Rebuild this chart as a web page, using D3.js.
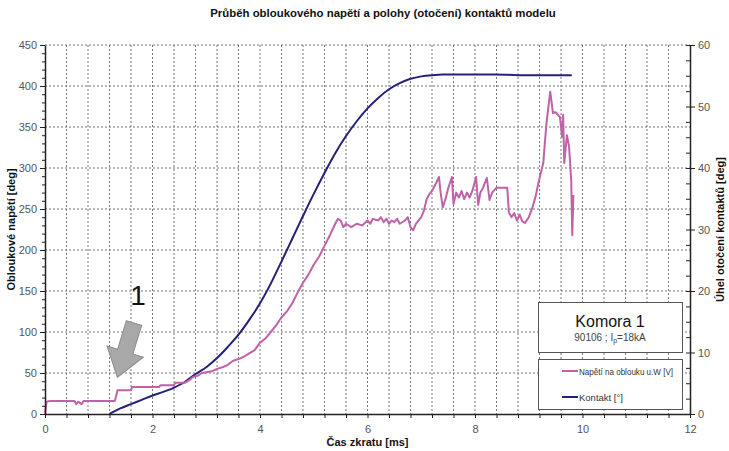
<!DOCTYPE html>
<html>
<head>
<meta charset="utf-8">
<script src="https://cdn.jsdelivr.net/npm/d3@7"></script>
<style>
  body { margin: 0; background: #fff; }
  svg { font-family: "Liberation Sans", Arial, sans-serif; }
  .axis text { fill: #555; font-size: 11px; }
  .axis path, .axis line { stroke: #222; }
</style>
</head>
<body>
<svg></svg>
<script>
// arc voltage (left axis) : time [ms] / value
var arcTime = [0, 0.03, 0.10, 0.55, 0.58, 0.62, 0.68, 0.72, 1.30, 1.35, 1.60, 1.62, 2.12, 2.15, 2.40, 2.42, 2.60,
    2.70, 2.75, 2.85, 2.92, 3.00, 3.10, 3.20, 3.30, 3.40, 3.50, 3.60, 3.70, 3.80, 3.90, 4.00, 4.10, 4.20, 4.30,
    4.40, 4.50, 4.60, 4.70, 4.80, 4.90, 5.00, 5.10, 5.20, 5.30, 5.40, 5.45, 5.50, 5.55, 5.60, 5.70, 5.80, 5.90,
    6.00, 6.05, 6.10, 6.20, 6.25, 6.30, 6.35, 6.40, 6.45, 6.50, 6.55, 6.60, 6.70, 6.75, 6.80, 6.85, 6.90, 7.00,
    7.05, 7.10, 7.15, 7.20, 7.28, 7.33, 7.36, 7.40, 7.45, 7.50, 7.57, 7.60, 7.65, 7.70, 7.75, 7.80, 7.85, 7.90,
    7.95, 8.02, 8.06, 8.10, 8.15, 8.22, 8.27, 8.32, 8.40, 8.60, 8.63, 8.68, 8.73, 8.78, 8.83, 8.88, 8.93, 9.00,
    9.07, 9.13, 9.18, 9.27, 9.33, 9.40, 9.45, 9.50, 9.58, 9.62, 9.64, 9.66, 9.71, 9.75, 9.79, 9.81, 9.83];
var arcValue = [0, 15, 16, 16, 12, 15, 12, 16, 16, 29, 29, 33, 33, 35, 35, 38, 38,
    42, 45, 47, 50, 51, 52, 55, 57, 60, 65, 67, 70, 74, 78, 87, 92, 100, 108,
    118, 125, 135, 148, 160, 170, 182, 192, 205, 218, 232, 238, 236, 228, 232, 228, 232, 230,
    236, 232, 238, 236, 240, 234, 238, 232, 236, 234, 238, 232, 236, 240, 228, 224, 232, 240,
    248, 262, 268, 272, 282, 289, 270, 252, 262, 275, 289, 256, 270, 264, 272, 262, 270, 264,
    272, 289, 255, 270, 276, 288, 261, 270, 276, 276, 246, 240, 245, 236, 243, 235, 233, 240,
    252, 266, 282, 306, 355, 393, 367, 368, 362, 338, 365, 306, 340, 326, 285, 218, 267];

// contact rotation (right axis) : time [ms] / angle [deg]
var contactTime = [1.2, 1.4, 1.6, 1.8, 2.0, 2.2, 2.4, 2.6, 2.8, 3.0, 3.2, 3.4, 3.6, 3.8, 4.0, 4.2, 4.4, 4.6, 4.8,
    5.0, 5.2, 5.4, 5.6, 5.8, 6.0, 6.2, 6.4, 6.6, 6.8, 7.0, 7.2, 7.4, 7.6, 8.0, 8.4, 8.8, 9.2, 9.6, 9.8];
var contactAngle = [0, 0.9, 1.6, 2.3, 3.0, 3.6, 4.3, 5.2, 6.5, 7.6, 9.1, 10.9, 12.9, 15.3, 18.0, 21.2, 24.8, 28.5, 32.2,
    35.8, 39.2, 42.4, 45.2, 47.6, 49.7, 51.4, 52.8, 53.8, 54.5, 54.9, 55.1, 55.2, 55.2, 55.2, 55.2, 55.1, 55.1, 55.1, 55.1];

var leftTicks = [0, 50, 100, 150, 200, 250, 300, 350, 400, 450];
var rightTicks = [0, 10, 20, 30, 40, 50, 60];
var timeLabels = [0, 2, 4, 6, 8, 10, 12];

var margin = {top: 45, right: 39, bottom: 37, left: 45},
    width = 729 - margin.left - margin.right,
    height = 451 - margin.top - margin.bottom;

var svg = d3.select("svg")
    .attr("width", 729)
    .attr("height", 451);

var g = svg.append("g")
    .attr("transform", "translate(" + margin.left + "," + margin.top + ")");

var x = d3.scaleLinear().domain([0, 12]).range([0, width]);
var yL = d3.scaleLinear().domain([0, 450]).range([height, 0]);
var yR = d3.scaleLinear().domain([0, 60]).range([height, 0]);

// grid lines, dotted
var gridX = d3.range(1, 30).map(function(i) { return i * 0.4; });
g.selectAll(".gx").data(gridX).enter().append("line")
    .attr("x1", function(d) { return x(d); })
    .attr("x2", function(d) { return x(d); })
    .attr("y1", 0).attr("y2", height)
    .attr("stroke", "#777").attr("stroke-dasharray", "2,2");
g.selectAll(".gy").data(leftTicks.slice(1)).enter().append("line")
    .attr("x1", 0).attr("x2", width)
    .attr("y1", function(d) { return yL(d); })
    .attr("y2", function(d) { return yL(d); })
    .attr("stroke", "#777").attr("stroke-dasharray", "2,2");

// lines
var arcData = arcTime.map(function(t, i) { return [t, arcValue[i]]; });
var contactData = contactTime.map(function(t, i) { return [t, contactAngle[i]]; });

g.append("path").datum(contactData)
    .attr("fill", "none").attr("stroke", "#24217a").attr("stroke-width", 2)
    .attr("d", d3.line().curve(d3.curveMonotoneX)
        .x(function(d) { return x(d[0]); })
        .y(function(d) { return yR(d[1]); }));

g.append("path").datum(arcData)
    .attr("fill", "none").attr("stroke", "#c062a8").attr("stroke-width", 2)
    .attr("stroke-linejoin", "round")
    .attr("d", d3.line()
        .x(function(d) { return x(d[0]); })
        .y(function(d) { return yL(d[1]); }));

// axes
var xTickVals = d3.range(0, 31).map(function(i) { return i * 0.4; });
g.append("g").attr("class", "axis")
    .attr("transform", "translate(0," + height + ")")
    .call(d3.axisBottom(x).tickValues(xTickVals).tickSize(4).tickSizeOuter(0)
        .tickFormat(function(d, i) { return i % 5 === 0 ? timeLabels[i / 5] : ""; }))
    .call(function(a) {
        a.select(".domain").attr("stroke-width", 1.5);
        a.selectAll("text").attr("dy", "1.05em");
    });

g.append("g").attr("class", "axis")
    .call(d3.axisLeft(yL).tickValues(d3.range(0, 451, 10)).tickSize(3).tickSizeOuter(0).tickFormat(""))
    .select(".domain").attr("stroke-width", 1.5);
g.append("g").attr("class", "axis")
    .call(d3.axisLeft(yL).tickValues(leftTicks).tickSize(5).tickPadding(3))
    .select(".domain").remove();

g.append("g").attr("class", "axis")
    .attr("transform", "translate(" + width + ",0)")
    .call(d3.axisRight(yR).tickValues(d3.range(0, 60.1, 2.5)).tickSize(-4).tickSizeOuter(0).tickFormat(""))
    .select(".domain").attr("stroke-width", 1.5);
g.append("g").attr("class", "axis")
    .attr("transform", "translate(" + width + ",0)")
    .call(d3.axisRight(yR).tickValues(rightTicks).tickSize(5).tickPadding(3))
    .select(".domain").remove();

// titles
svg.append("text").attr("x", 383).attr("y", 17).attr("text-anchor", "middle")
    .attr("font-size", 11.4).attr("font-weight", "bold").attr("fill", "#111")
    .text("Průběh obloukového napětí a polohy (otočení) kontaktů modelu");
svg.append("text").attr("x", margin.left + width / 2).attr("y", 446).attr("text-anchor", "middle")
    .attr("font-size", 11).attr("font-weight", "bold").attr("fill", "#111")
    .text("Čas zkratu [ms]");
svg.append("text").attr("transform", "translate(15," + (margin.top + height / 2) + ") rotate(-90)")
    .attr("text-anchor", "middle").attr("font-size", 11).attr("font-weight", "bold").attr("fill", "#111")
    .text("Obloukové napětí [deg]");
svg.append("text").attr("transform", "translate(724," + (margin.top + height / 2) + ") rotate(-90)")
    .attr("text-anchor", "middle").attr("font-size", 11).attr("font-weight", "bold").attr("fill", "#111")
    .text("Úhel otočení kontaktů [deg]");

// annotation: "1" with grey arrow
svg.append("text").attr("x", 138).attr("y", 305).attr("text-anchor", "middle")
    .attr("font-size", 28).attr("fill", "#111").text("1");
svg.append("polygon")
    .attr("points", "-8,0 8,0 8,30 19,30 0,57 -19,30 -8,30")
    .attr("transform", "translate(134,323) rotate(17)")
    .attr("fill", "#a8a8a8").attr("stroke", "#8c8c8c").attr("stroke-width", 1);

// info box
svg.append("rect").attr("x", 538.5).attr("y", 302.5).attr("width", 144).attr("height", 50)
    .attr("fill", "#fff").attr("stroke", "#555");
svg.append("text").attr("x", 610).attr("y", 327).attr("text-anchor", "middle")
    .attr("font-size", 16).attr("fill", "#111").text("Komora 1");
var info = svg.append("text").attr("x", 610).attr("y", 341).attr("text-anchor", "middle")
    .attr("font-size", 10).attr("fill", "#444");
info.append("tspan").text("90106 ; I");
info.append("tspan").attr("font-size", 7).attr("dy", 2).text("p");
info.append("tspan").attr("dy", -2).text("=18kA");

// legend
svg.append("rect").attr("x", 538.5).attr("y", 359.5).attr("width", 144).attr("height", 50)
    .attr("fill", "#fff").attr("stroke", "#555");
var legend = [["Napětí na oblouku u.W [V]", "#c062a8"], ["Kontakt [°]", "#24217a"]];
legend.forEach(function(l, i) {
    var ly = 371 + i * 26;
    svg.append("line").attr("x1", 562).attr("x2", 578).attr("y1", ly).attr("y2", ly)
        .attr("stroke", l[1]).attr("stroke-width", 2);
    var t = svg.append("text").attr("x", 579).attr("y", ly + 3.5).attr("font-size", 9.5)
        .attr("fill", "#333").text(l[0]);
    if (i === 0) t.attr("textLength", 94).attr("lengthAdjust", "spacingAndGlyphs");
});
</script>
</body>
</html>
